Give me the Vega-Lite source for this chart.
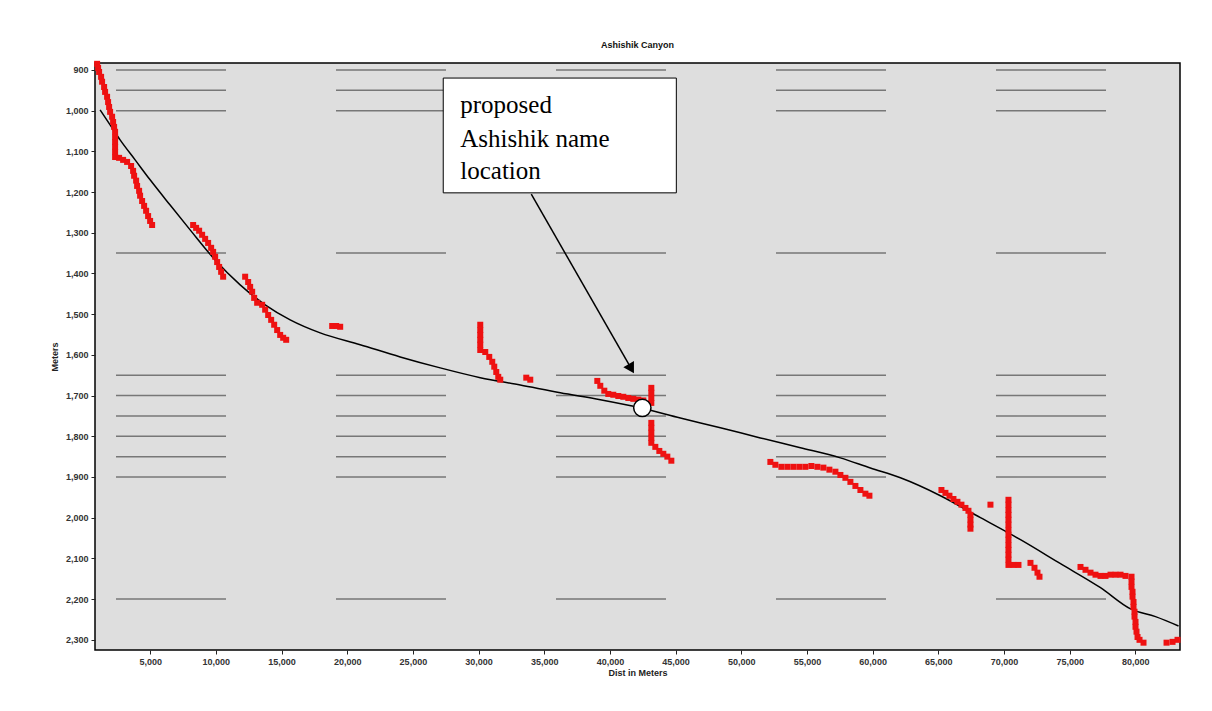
{
  "$schema": "https://vega.github.io/schema/vega-lite/v6.json",
  "width": 1085,
  "height": 587,
  "autosize": {"type": "none"},
  "padding": {"left": 95, "top": 63, "right": 32, "bottom": 61},
  "background": "white",
  "title": {"text": "Ashishik Canyon", "fontSize": 9, "fontWeight": "bold", "font": "Liberation Sans", "color": "#111", "offset": 11},
  "config": {
    "view": {"stroke": "#000", "strokeWidth": 1.5, "fill": "#dedede"},
    "axis": {"labelFont": "Liberation Sans", "labelFontSize": 9, "labelFontWeight": "bold", "labelColor": "#333", "titleFont": "Liberation Sans", "titleFontSize": 9, "titleFontWeight": "bold", "titleColor": "#222", "grid": false, "domain": false, "tickColor": "#222", "tickSize": 4}
  },
  "datasets": {
    "grid": [{"elev": 900}, {"elev": 950}, {"elev": 1000}, {"elev": 1350}, {"elev": 1650}, {"elev": 1700}, {"elev": 1750}, {"elev": 1800}, {"elev": 1850}, {"elev": 1900}, {"elev": 2200}],
    "fit": [
      {"dist": 1188, "elev": 998}, {"dist": 1950, "elev": 1035}, {"dist": 2711, "elev": 1072}, {"dist": 3854, "elev": 1121}, {"dist": 4996, "elev": 1170}, {"dist": 6519, "elev": 1232}, {"dist": 8042, "elev": 1293}, {"dist": 9946, "elev": 1367}, {"dist": 11850, "elev": 1428}, {"dist": 13754, "elev": 1477}, {"dist": 15658, "elev": 1514}, {"dist": 17943, "elev": 1546}, {"dist": 20989, "elev": 1575}, {"dist": 24036, "elev": 1605}, {"dist": 27082, "elev": 1632}, {"dist": 30129, "elev": 1656}, {"dist": 33175, "elev": 1674}, {"dist": 36222, "elev": 1693}, {"dist": 39268, "elev": 1710}, {"dist": 42315, "elev": 1730}, {"dist": 45361, "elev": 1755}, {"dist": 48408, "elev": 1779}, {"dist": 51454, "elev": 1804}, {"dist": 54500, "elev": 1828}, {"dist": 57546, "elev": 1853}, {"dist": 59831, "elev": 1878}, {"dist": 62116, "elev": 1902}, {"dist": 65162, "elev": 1946}, {"dist": 68209, "elev": 2000}, {"dist": 71255, "elev": 2054}, {"dist": 74301, "elev": 2113}, {"dist": 77348, "elev": 2172}, {"dist": 79633, "elev": 2224}, {"dist": 81537, "elev": 2243}, {"dist": 83288, "elev": 2266}
    ],
    "obs": [
      {"dist": 960, "elev": 885}, {"dist": 1036, "elev": 895}, {"dist": 1112, "elev": 905}, {"dist": 1264, "elev": 917}, {"dist": 1340, "elev": 929}, {"dist": 1493, "elev": 942}, {"dist": 1569, "elev": 954}, {"dist": 1721, "elev": 966}, {"dist": 1797, "elev": 979}, {"dist": 1874, "elev": 991}, {"dist": 1950, "elev": 1003}, {"dist": 2102, "elev": 1015}, {"dist": 2178, "elev": 1028}, {"dist": 2254, "elev": 1040}, {"dist": 2330, "elev": 1052}, {"dist": 2330, "elev": 1065}, {"dist": 2330, "elev": 1077}, {"dist": 2330, "elev": 1089}, {"dist": 2330, "elev": 1101}, {"dist": 2330, "elev": 1114}, {"dist": 2635, "elev": 1116}, {"dist": 2940, "elev": 1121}, {"dist": 3244, "elev": 1126}, {"dist": 3549, "elev": 1136}, {"dist": 3701, "elev": 1148}, {"dist": 3778, "elev": 1160}, {"dist": 3930, "elev": 1172}, {"dist": 4006, "elev": 1185}, {"dist": 4158, "elev": 1197}, {"dist": 4234, "elev": 1209}, {"dist": 4387, "elev": 1222}, {"dist": 4539, "elev": 1234}, {"dist": 4691, "elev": 1246}, {"dist": 4844, "elev": 1259}, {"dist": 4996, "elev": 1271}, {"dist": 5148, "elev": 1281},
      {"dist": 8271, "elev": 1281}, {"dist": 8499, "elev": 1288}, {"dist": 8728, "elev": 1295}, {"dist": 8956, "elev": 1305}, {"dist": 9185, "elev": 1315}, {"dist": 9413, "elev": 1325}, {"dist": 9642, "elev": 1337}, {"dist": 9794, "elev": 1347}, {"dist": 9946, "elev": 1359}, {"dist": 10099, "elev": 1372}, {"dist": 10251, "elev": 1384}, {"dist": 10403, "elev": 1396}, {"dist": 10556, "elev": 1408},
      {"dist": 12231, "elev": 1408}, {"dist": 12460, "elev": 1421}, {"dist": 12612, "elev": 1433}, {"dist": 12765, "elev": 1445}, {"dist": 12917, "elev": 1460}, {"dist": 13145, "elev": 1472}, {"dist": 13526, "elev": 1477}, {"dist": 13754, "elev": 1489}, {"dist": 13983, "elev": 1502}, {"dist": 14211, "elev": 1514}, {"dist": 14440, "elev": 1526}, {"dist": 14668, "elev": 1539}, {"dist": 14897, "elev": 1551}, {"dist": 15125, "elev": 1558}, {"dist": 15354, "elev": 1563},
      {"dist": 18857, "elev": 1529}, {"dist": 19162, "elev": 1529}, {"dist": 19466, "elev": 1531},
      {"dist": 30129, "elev": 1526}, {"dist": 30129, "elev": 1539}, {"dist": 30129, "elev": 1551}, {"dist": 30129, "elev": 1563}, {"dist": 30129, "elev": 1575}, {"dist": 30129, "elev": 1588}, {"dist": 30510, "elev": 1593}, {"dist": 30814, "elev": 1605}, {"dist": 31043, "elev": 1617}, {"dist": 31195, "elev": 1629}, {"dist": 31348, "elev": 1642}, {"dist": 31500, "elev": 1654}, {"dist": 31652, "elev": 1661}, {"dist": 33632, "elev": 1656}, {"dist": 33937, "elev": 1661},
      {"dist": 39040, "elev": 1664}, {"dist": 39268, "elev": 1676}, {"dist": 39573, "elev": 1688}, {"dist": 39877, "elev": 1696}, {"dist": 40258, "elev": 1698}, {"dist": 40639, "elev": 1701}, {"dist": 41020, "elev": 1703}, {"dist": 41400, "elev": 1706}, {"dist": 41781, "elev": 1708}, {"dist": 42162, "elev": 1710}, {"dist": 42543, "elev": 1712}, {"dist": 43152, "elev": 1681}, {"dist": 43152, "elev": 1693}, {"dist": 43152, "elev": 1706}, {"dist": 43152, "elev": 1718}, {"dist": 43152, "elev": 1767}, {"dist": 43152, "elev": 1779}, {"dist": 43152, "elev": 1791}, {"dist": 43152, "elev": 1804}, {"dist": 43152, "elev": 1816}, {"dist": 43457, "elev": 1826}, {"dist": 43762, "elev": 1836}, {"dist": 44066, "elev": 1843}, {"dist": 44371, "elev": 1850}, {"dist": 44676, "elev": 1860},
      {"dist": 52215, "elev": 1863}, {"dist": 52596, "elev": 1870}, {"dist": 53053, "elev": 1875}, {"dist": 53510, "elev": 1875}, {"dist": 53967, "elev": 1875}, {"dist": 54424, "elev": 1875}, {"dist": 54881, "elev": 1875}, {"dist": 55338, "elev": 1873}, {"dist": 55795, "elev": 1875}, {"dist": 56252, "elev": 1877}, {"dist": 56709, "elev": 1882}, {"dist": 57166, "elev": 1887}, {"dist": 57546, "elev": 1895}, {"dist": 57927, "elev": 1902}, {"dist": 58308, "elev": 1912}, {"dist": 58689, "elev": 1922}, {"dist": 59070, "elev": 1932}, {"dist": 59450, "elev": 1941}, {"dist": 59755, "elev": 1946},
      {"dist": 65239, "elev": 1932}, {"dist": 65543, "elev": 1939}, {"dist": 65848, "elev": 1946}, {"dist": 66153, "elev": 1954}, {"dist": 66457, "elev": 1961}, {"dist": 66762, "elev": 1968}, {"dist": 67066, "elev": 1976}, {"dist": 67295, "elev": 1983}, {"dist": 67447, "elev": 1993}, {"dist": 67447, "elev": 2005}, {"dist": 67447, "elev": 2017}, {"dist": 67447, "elev": 2027}, {"dist": 68970, "elev": 1968},
      {"dist": 70341, "elev": 1956}, {"dist": 70341, "elev": 1968}, {"dist": 70341, "elev": 1981}, {"dist": 70341, "elev": 1993}, {"dist": 70341, "elev": 2005}, {"dist": 70341, "elev": 2017}, {"dist": 70341, "elev": 2030}, {"dist": 70341, "elev": 2042}, {"dist": 70341, "elev": 2054}, {"dist": 70341, "elev": 2067}, {"dist": 70341, "elev": 2079}, {"dist": 70341, "elev": 2091}, {"dist": 70341, "elev": 2103}, {"dist": 70341, "elev": 2116}, {"dist": 70722, "elev": 2116}, {"dist": 71103, "elev": 2116}, {"dist": 72017, "elev": 2111}, {"dist": 72322, "elev": 2123}, {"dist": 72550, "elev": 2135}, {"dist": 72703, "elev": 2145},
      {"dist": 75825, "elev": 2121}, {"dist": 76206, "elev": 2128}, {"dist": 76587, "elev": 2135}, {"dist": 76967, "elev": 2140}, {"dist": 77348, "elev": 2143}, {"dist": 77729, "elev": 2143}, {"dist": 78110, "elev": 2140}, {"dist": 78491, "elev": 2140}, {"dist": 78872, "elev": 2140}, {"dist": 79252, "elev": 2143}, {"dist": 79709, "elev": 2145}, {"dist": 79709, "elev": 2157}, {"dist": 79709, "elev": 2170}, {"dist": 79785, "elev": 2182}, {"dist": 79785, "elev": 2194}, {"dist": 79861, "elev": 2207}, {"dist": 79861, "elev": 2219}, {"dist": 79937, "elev": 2231}, {"dist": 79937, "elev": 2243}, {"dist": 80013, "elev": 2256}, {"dist": 80013, "elev": 2268}, {"dist": 80089, "elev": 2280}, {"dist": 80166, "elev": 2293}, {"dist": 80318, "elev": 2300}, {"dist": 80622, "elev": 2307}, {"dist": 82375, "elev": 2307}, {"dist": 82832, "elev": 2305}, {"dist": 83212, "elev": 2300}
    ],
    "box": [{"x1": 27311, "x2": 45056, "y1": 920, "y2": 1202}],
    "label": [
      {"dist": 28606, "elev": 985, "text": "proposed"},
      {"dist": 28606, "elev": 1070, "text": "Ashishik name"},
      {"dist": 28606, "elev": 1148, "text": "location"}
    ],
    "arrow": [{"x1": 34013, "y1": 1205, "x2": 41628, "y2": 1634}],
    "head": [{"dist": 41628, "elev": 1634}],
    "site": [{"dist": 42467, "elev": 1730}]
  },
  "layer": [
    {
      "data": {"name": "grid"},
      "mark": {"type": "rule", "color": "#777777", "strokeWidth": 1.5, "strokeDash": [110, 110], "strokeDashOffset": 146},
      "encoding": {
        "y": {"field": "elev", "type": "quantitative", "scale": {"domain": [883, 2325], "reverse": true, "nice": false, "zero": false},
          "axis": {"title": "Meters", "values": [900, 950, 1000, 1050, 1100, 1150, 1200, 1250, 1300, 1350, 1400, 1450, 1500, 1550, 1600, 1650, 1700, 1750, 1800, 1850, 1900, 1950, 2000, 2050, 2100, 2150, 2200, 2250, 2300], "format": ",d", "labelPadding": 3, "titlePadding": 6}}
      }
    },
    {
      "data": {"name": "fit"},
      "mark": {"type": "line", "color": "#000000", "strokeWidth": 1.5, "interpolate": "monotone"},
      "encoding": {
        "x": {"field": "dist", "type": "quantitative", "scale": {"domain": [800, 83400], "nice": false, "zero": false},
          "axis": {"title": "Dist in Meters", "values": [5000, 10000, 15000, 20000, 25000, 30000, 35000, 40000, 45000, 50000, 55000, 60000, 65000, 70000, 75000, 80000], "format": ",d", "labelPadding": 3, "titlePadding": 2}},
        "y": {"field": "elev", "type": "quantitative"}
      }
    },
    {
      "data": {"name": "obs"},
      "mark": {"type": "point", "shape": "square", "filled": true, "size": 36, "color": "#ee1111", "opacity": 1},
      "encoding": {
        "x": {"field": "dist", "type": "quantitative"},
        "y": {"field": "elev", "type": "quantitative"}
      }
    },
    {
      "data": {"name": "box"},
      "mark": {"type": "rect", "fill": "white", "stroke": "black", "strokeWidth": 1},
      "encoding": {
        "x": {"field": "x1", "type": "quantitative"},
        "x2": {"field": "x2"},
        "y": {"field": "y1", "type": "quantitative"},
        "y2": {"field": "y2"}
      }
    },
    {
      "data": {"name": "label"},
      "mark": {"type": "text", "font": "Liberation Serif", "fontSize": 25, "align": "left", "baseline": "middle", "color": "black"},
      "encoding": {
        "x": {"field": "dist", "type": "quantitative"},
        "y": {"field": "elev", "type": "quantitative"},
        "text": {"field": "text"}
      }
    },
    {
      "data": {"name": "arrow"},
      "mark": {"type": "rule", "color": "black", "strokeWidth": 1.5},
      "encoding": {
        "x": {"field": "x1", "type": "quantitative"},
        "y": {"field": "y1", "type": "quantitative"},
        "x2": {"field": "x2"},
        "y2": {"field": "y2"}
      }
    },
    {
      "data": {"name": "head"},
      "mark": {"type": "point", "shape": "triangle-down", "filled": true, "size": 150, "color": "black", "angle": 330, "opacity": 1},
      "encoding": {
        "x": {"field": "dist", "type": "quantitative"},
        "y": {"field": "elev", "type": "quantitative"}
      }
    },
    {
      "data": {"name": "site"},
      "mark": {"type": "point", "shape": "circle", "filled": true, "size": 300, "fill": "white", "stroke": "black", "strokeWidth": 1.5, "opacity": 1},
      "encoding": {
        "x": {"field": "dist", "type": "quantitative"},
        "y": {"field": "elev", "type": "quantitative"}
      }
    }
  ]
}
